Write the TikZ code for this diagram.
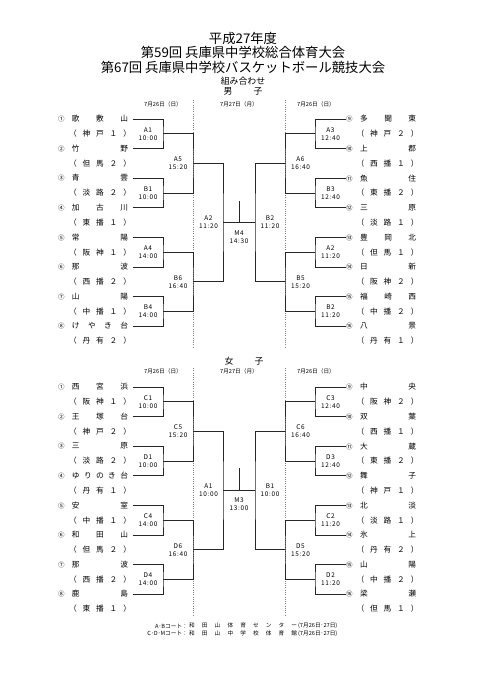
\documentclass[tikz,border=0pt]{standalone}
\usepackage{fontspec}
\setmainfont{Noto Sans CJK JP}
\newfontfamily\headfont{Noto Sans CJK JP}
\newfontfamily\gamefont[LetterSpace=10]{Noto Sans CJK JP}
\usetikzlibrary{positioning}
% spread the characters of a name over a fixed width
\newcommand\sprd[2][69.3pt]{\makebox[#1][s]{\sprdi#2\relax}}
\def\sprdi#1#2{#1\ifx\relax#2\else\hfill\expandafter\sprdi\expandafter#2\fi}
\newcommand\cnum[1]{\makebox[17.3pt][l]{\fontsize{8}{8}\selectfont#1}}
\newcommand\dist[1]{\sprd[76.7pt]{#1}}

\begin{document}
\begin{tikzpicture}[x=1.2375pt, y=-1.2375pt,
    lteam/.style={anchor=east, inner sep=0pt, outer xsep=6.2pt, font=\fontsize{9.5}{11}\selectfont},
    rteam/.style={anchor=west, inner sep=0pt, font=\fontsize{9.5}{11}\selectfont},
    area/.style={inner sep=0pt, font=\fontsize{9.5}{11}\selectfont},
    game/.style={align=center, inner sep=0pt, font=\gamefont\fontsize{8}{9.9}\selectfont},
    day/.style={inner sep=0pt, font=\fontsize{7}{8}\selectfont},
    head/.style={inner sep=0pt, font=\headfont\fontsize{16.5}{18}\selectfont},
    bracket/.style={line width=0.9pt, black!85},
    guide/.style={gray, dotted, line width=0.8pt},
    foot/.style={inner sep=0pt, font=\fontsize{7}{8}\selectfont}]
\path[use as bounding box, fill=white] (0,0) rectangle (481,680);

% titles
\node[head] (title1) at (243,38) {平成27年度};
\node[head] (title2) at (243,52.5) {第59回 兵庫県中学校総合体育大会};
\node[head] (title3) at (243,67) {第67回 兵庫県中学校バスケットボール競技大会};
\node[inner sep=0pt, font=\headfont\fontsize{11}{12}\selectfont] (kumi) at (243,81.5) {組み合わせ};
\node[inner sep=0pt, font=\headfont\fontsize{11}{12}\selectfont] (boys) at (243,91) {\sprd[48pt]{男子}};
\node[inner sep=0pt, font=\headfont\fontsize{11}{12}\selectfont] (girls) at (244,360.7) {\sprd[48pt]{女子}};

% dates
\node[day] (bday1) at (163,104) {7月26日（日）};
\node[day] (bday2) at (239,104) {7月27日（月）};
\node[day] (bday3) at (316,104) {7月26日（日）};
\node[day] (gday1) at (163,371) {7月26日（日）};
\node[day] (gday2) at (239,371) {7月27日（月）};
\node[day] (gday3) at (316,371) {7月26日（日）};

% day guides
\draw[guide] (193,100) -- (193,347);
\draw[guide] (285,100) -- (285,347);
\draw[guide] (193,368) -- (193,615);
\draw[guide] (285,368) -- (285,615);

% boys teams
\node[lteam] (b1) at (133,119) {\cnum{①}\sprd{歌敷山}};
\node[lteam] (b2) at (133,148.6) {\cnum{②}\sprd{竹野}};
\node[lteam] (b3) at (133,178.1) {\cnum{③}\sprd{青雲}};
\node[lteam] (b4) at (133,207.7) {\cnum{④}\sprd{加古川}};
\node[lteam] (b5) at (133,237.3) {\cnum{⑤}\sprd{常陽}};
\node[lteam] (b6) at (133,266.9) {\cnum{⑥}\sprd{那波}};
\node[lteam] (b7) at (133,296.4) {\cnum{⑦}\sprd{山陽}};
\node[lteam] (b8) at (133,326) {\cnum{⑧}\sprd{けやき台}};
\node[area] (b1a) at (100,133.8) {\dist{（神戸１）}};
\node[area] (b2a) at (100,163.4) {\dist{（但馬２）}};
\node[area] (b3a) at (100,192.9) {\dist{（淡路２）}};
\node[area] (b4a) at (100,222.5) {\dist{（東播１）}};
\node[area] (b5a) at (100,252.1) {\dist{（阪神１）}};
\node[area] (b6a) at (100,281.7) {\dist{（西播２）}};
\node[area] (b7a) at (100,311.2) {\dist{（中播１）}};
\node[area] (b8a) at (100,340.8) {\dist{（丹有２）}};
\node[rteam] (b9) at (346,119) {\cnum{⑨}\sprd{多聞東}};
\node[rteam] (b10) at (346,148.6) {\cnum{⑩}\sprd{上郡}};
\node[rteam] (b11) at (346,178.1) {\cnum{⑪}\sprd{魚住}};
\node[rteam] (b12) at (346,207.7) {\cnum{⑫}\sprd{三原}};
\node[rteam] (b13) at (346,237.3) {\cnum{⑬}\sprd{豊岡北}};
\node[rteam] (b14) at (346,266.9) {\cnum{⑭}\sprd{日新}};
\node[rteam] (b15) at (346,296.4) {\cnum{⑮}\sprd{福崎西}};
\node[rteam] (b16) at (346,326) {\cnum{⑯}\sprd{八景}};
\node[area] (b9a) at (387.5,133.8) {\dist{（神戸２）}};
\node[area] (b10a) at (387.5,163.4) {\dist{（西播１）}};
\node[area] (b11a) at (387.5,192.9) {\dist{（東播２）}};
\node[area] (b12a) at (387.5,222.5) {\dist{（淡路１）}};
\node[area] (b13a) at (387.5,252.1) {\dist{（但馬１）}};
\node[area] (b14a) at (387.5,281.7) {\dist{（阪神２）}};
\node[area] (b15a) at (387.5,311.2) {\dist{（中播２）}};
\node[area] (b16a) at (387.5,340.8) {\dist{（丹有１）}};

% boys bracket points
\coordinate (bL1) at (163,133.8);
\coordinate (bL2) at (163,192.9);
\coordinate (bL3) at (163,252.1);
\coordinate (bL4) at (163,311.2);
\coordinate (bL5) at (193,163.4);
\coordinate (bL6) at (193,281.7);
\coordinate (bLs) at (223,222.5);
\coordinate (bF) at (239,222.5);
\coordinate (bTop) at (239,201);
\coordinate (bRs) at (255,222.5);
\coordinate (bR5) at (285,163.4);
\coordinate (bR6) at (285,281.7);
\coordinate (bR1) at (315,133.8);
\coordinate (bR2) at (315,192.9);
\coordinate (bR3) at (315,252.1);
\coordinate (bR4) at (315,311.2);

\draw[bracket] (b1.east) -| (bL1) |- (b2.east);
\draw[bracket] (b3.east) -| (bL2) |- (b4.east);
\draw[bracket] (b5.east) -| (bL3) |- (b6.east);
\draw[bracket] (b7.east) -| (bL4) |- (b8.east);
\draw[bracket] (bL1) -| (bL5) |- (bL2);
\draw[bracket] (bL3) -| (bL6) |- (bL4);
\draw[bracket] (bL5) -| (bLs) |- (bL6);
\draw[bracket] (b9.west) -| (bR1) |- (b10.west);
\draw[bracket] (b11.west) -| (bR2) |- (b12.west);
\draw[bracket] (b13.west) -| (bR3) |- (b14.west);
\draw[bracket] (b15.west) -| (bR4) |- (b16.west);
\draw[bracket] (bR1) -| (bR5) |- (bR2);
\draw[bracket] (bR3) -| (bR6) |- (bR4);
\draw[bracket] (bR5) -| (bRs) |- (bR6);
\draw[bracket] (bLs) -- (bRs);
\draw[bracket] (bF) -- (bTop);

% boys games
\node[game] (bgA1) at (148,133.8) {A1\\10:00};
\node[game] (bgB1) at (148,192.9) {B1\\10:00};
\node[game] (bgA4) at (148,252.1) {A4\\14:00};
\node[game] (bgB4) at (148,311.2) {B4\\14:00};
\node[game] (bgA5) at (178,163.4) {A5\\15:20};
\node[game] (bgB6) at (178,281.7) {B6\\16:40};
\node[game] (bgA2s) at (208.5,222.5) {A2\\11:20};
\node[game] (bgM4) at (239,237) {M4\\14:30};
\node[game] (bgB2s) at (270,222.5) {B2\\11:20};
\node[game] (bgA6) at (300.5,163.4) {A6\\16:40};
\node[game] (bgB5) at (300.5,281.7) {B5\\15:20};
\node[game] (bgA3) at (330.5,133.8) {A3\\12:40};
\node[game] (bgB3) at (330.5,192.9) {B3\\12:40};
\node[game] (bgA2) at (330.5,252.1) {A2\\11:20};
\node[game] (bgB2) at (330.5,311.2) {B2\\11:20};

% girls teams
\node[lteam] (g1) at (133,387) {\cnum{①}\sprd{西宮浜}};
\node[lteam] (g2) at (133,416.6) {\cnum{②}\sprd{王塚台}};
\node[lteam] (g3) at (133,446.1) {\cnum{③}\sprd{三原}};
\node[lteam] (g4) at (133,475.7) {\cnum{④}\sprd{ゆりのき台}};
\node[lteam] (g5) at (133,505.3) {\cnum{⑤}\sprd{安室}};
\node[lteam] (g6) at (133,534.9) {\cnum{⑥}\sprd{和田山}};
\node[lteam] (g7) at (133,564.4) {\cnum{⑦}\sprd{那波}};
\node[lteam] (g8) at (133,594) {\cnum{⑧}\sprd{鹿島}};
\node[area] (g1a) at (100,401.8) {\dist{（阪神１）}};
\node[area] (g2a) at (100,431.4) {\dist{（神戸２）}};
\node[area] (g3a) at (100,460.9) {\dist{（淡路２）}};
\node[area] (g4a) at (100,490.5) {\dist{（丹有１）}};
\node[area] (g5a) at (100,520.1) {\dist{（中播１）}};
\node[area] (g6a) at (100,549.7) {\dist{（但馬２）}};
\node[area] (g7a) at (100,579.2) {\dist{（西播２）}};
\node[area] (g8a) at (100,608.8) {\dist{（東播１）}};
\node[rteam] (g9) at (346,387) {\cnum{⑨}\sprd{中央}};
\node[rteam] (g10) at (346,416.6) {\cnum{⑩}\sprd{双葉}};
\node[rteam] (g11) at (346,446.1) {\cnum{⑪}\sprd{大蔵}};
\node[rteam] (g12) at (346,475.7) {\cnum{⑫}\sprd{舞子}};
\node[rteam] (g13) at (346,505.3) {\cnum{⑬}\sprd{北淡}};
\node[rteam] (g14) at (346,534.9) {\cnum{⑭}\sprd{氷上}};
\node[rteam] (g15) at (346,564.4) {\cnum{⑮}\sprd{山陽}};
\node[rteam] (g16) at (346,594) {\cnum{⑯}\sprd{梁瀬}};
\node[area] (g9a) at (387.5,401.8) {\dist{（阪神２）}};
\node[area] (g10a) at (387.5,431.4) {\dist{（西播１）}};
\node[area] (g11a) at (387.5,460.9) {\dist{（東播２）}};
\node[area] (g12a) at (387.5,490.5) {\dist{（神戸１）}};
\node[area] (g13a) at (387.5,520.1) {\dist{（淡路１）}};
\node[area] (g14a) at (387.5,549.7) {\dist{（丹有２）}};
\node[area] (g15a) at (387.5,579.2) {\dist{（中播２）}};
\node[area] (g16a) at (387.5,608.8) {\dist{（但馬１）}};

% girls bracket points
\coordinate (gL1) at (163,401.8);
\coordinate (gL2) at (163,460.9);
\coordinate (gL3) at (163,520.1);
\coordinate (gL4) at (163,579.2);
\coordinate (gL5) at (193,431.4);
\coordinate (gL6) at (193,549.7);
\coordinate (gLs) at (223,490.5);
\coordinate (gF) at (239,490.5);
\coordinate (gTop) at (239,468);
\coordinate (gRs) at (255,490.5);
\coordinate (gR5) at (285,431.4);
\coordinate (gR6) at (285,549.7);
\coordinate (gR1) at (315,401.8);
\coordinate (gR2) at (315,460.9);
\coordinate (gR3) at (315,520.1);
\coordinate (gR4) at (315,579.2);

\draw[bracket] (g1.east) -| (gL1) |- (g2.east);
\draw[bracket] (g3.east) -| (gL2) |- (g4.east);
\draw[bracket] (g5.east) -| (gL3) |- (g6.east);
\draw[bracket] (g7.east) -| (gL4) |- (g8.east);
\draw[bracket] (gL1) -| (gL5) |- (gL2);
\draw[bracket] (gL3) -| (gL6) |- (gL4);
\draw[bracket] (gL5) -| (gLs) |- (gL6);
\draw[bracket] (g9.west) -| (gR1) |- (g10.west);
\draw[bracket] (g11.west) -| (gR2) |- (g12.west);
\draw[bracket] (g13.west) -| (gR3) |- (g14.west);
\draw[bracket] (g15.west) -| (gR4) |- (g16.west);
\draw[bracket] (gR1) -| (gR5) |- (gR2);
\draw[bracket] (gR3) -| (gR6) |- (gR4);
\draw[bracket] (gR5) -| (gRs) |- (gR6);
\draw[bracket] (gLs) -- (gRs);
\draw[bracket] (gF) -- (gTop);

% girls games
\node[game] (ggC1) at (148,401.8) {C1\\10:00};
\node[game] (ggD1) at (148,460.9) {D1\\10:00};
\node[game] (ggC4) at (148,520.1) {C4\\14:00};
\node[game] (ggD4) at (148,579.2) {D4\\14:00};
\node[game] (ggC5) at (178,431.4) {C5\\15:20};
\node[game] (ggD6) at (178,549.7) {D6\\16:40};
\node[game] (ggA1) at (208.5,490.5) {A1\\10:00};
\node[game] (ggM3) at (239,504.5) {M3\\13:00};
\node[game] (ggB1) at (270,490.5) {B1\\10:00};
\node[game] (ggC6) at (300.5,431.4) {C6\\16:40};
\node[game] (ggD5) at (300.5,549.7) {D5\\15:20};
\node[game] (ggC3) at (330.5,401.8) {C3\\12:40};
\node[game] (ggD3) at (330.5,460.9) {D3\\12:40};
\node[game] (ggC2) at (330.5,520.1) {C2\\11:20};
\node[game] (ggD2) at (330.5,579.2) {D2\\11:20};

% courts
\node[foot, anchor=east] (court1) at (188,626) {A･Bコート：};
\node[foot, anchor=west] (hall1) at (189,626) {\sprd[133.6pt]{和田山体育センター}\,(7月26日･27日)};
\node[foot, anchor=east] (court2) at (188,633.5) {C･D･Mコート：};
\node[foot, anchor=west] (hall2) at (189,633.5) {\sprd[133.6pt]{和田山中学校体育館}\,(7月26日･27日)};
\end{tikzpicture}
\end{document}
